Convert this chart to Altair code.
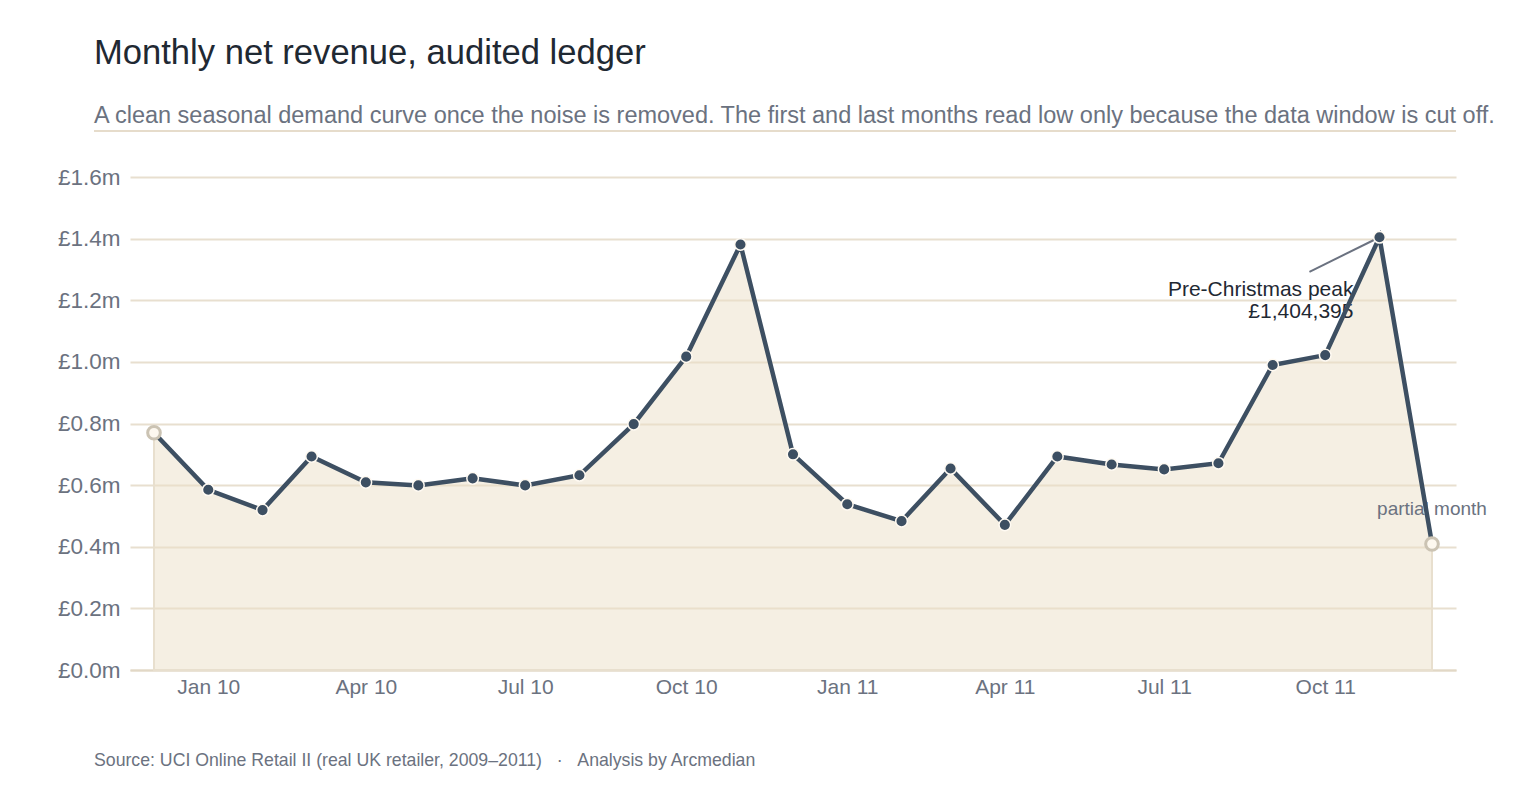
import altair as alt
import pandas as pd

# Monthly net revenue (GBP), Dec 2009 – Dec 2011
months = [
    "2009-12-01", "2010-01-01", "2010-02-01", "2010-03-01", "2010-04-01",
    "2010-05-01", "2010-06-01", "2010-07-01", "2010-08-01", "2010-09-01",
    "2010-10-01", "2010-11-01", "2010-12-01", "2011-01-01", "2011-02-01",
    "2011-03-01", "2011-04-01", "2011-05-01", "2011-06-01", "2011-07-01",
    "2011-08-01", "2011-09-01", "2011-10-01", "2011-11-01", "2011-12-01",
]
revenue = [
    770000, 585000, 519000, 693000, 609000,
    599000, 622000, 599000, 632000, 798000,
    1017000, 1381000, 700000, 538000, 483000,
    654000, 471000, 693000, 667000, 651000,
    671000, 990000, 1022000, 1404395, 409000,
]
# first and last months are cut off by the data window
partial = [True] + [False] * 23 + [True]
notes = [""] * 24 + ["partial month"]

y_ticks = [0, 200000, 400000, 600000, 800000, 1000000, 1200000, 1400000, 1600000]

df = pd.DataFrame({"month": months, "revenue": revenue, "partial": partial, "note": notes})

W, H = 1326, 493
FONT = "Liberation Sans"
INK = "#1f2933"
MUTED = "#6b7280"
LINE = "#3d4f62"
GRID = "#e8dfcf"

x_enc = alt.X(
    "month:T",
    scale=alt.Scale(type="utc", padding=24, nice=False),
    axis=alt.Axis(
        title=None,
        tickCount={"interval": "month", "step": 3},
        labelExpr="utcFormat(datum.value, '%b %y')",
        grid=False,
        ticks=False,
        domain=True,
        domainColor="#e2d8c6",
        domainWidth=2,
        labelPadding=6,
        labelFontSize=21,
        labelColor=MUTED,
        labelFont=FONT,
    ),
)
y_enc = alt.Y(
    "revenue:Q",
    scale=alt.Scale(domain=[0, 1600000], nice=False),
    axis=alt.Axis(
        title=None,
        values=y_ticks,
        labelExpr="'£' + format(datum.value / 1e6, '.1f') + 'm'",
        grid=True,
        gridColor=GRID,
        gridWidth=2,
        ticks=False,
        domain=False,
        labelPadding=10,
        labelFontSize=22.5,
        labelColor=MUTED,
        labelFont=FONT,
    ),
)

base = alt.Chart(df).encode(x=x_enc, y=y_enc)

area = base.mark_area(fill="#ecdfc8", fillOpacity=0.5, stroke="#e8dfce", strokeWidth=2)
line = base.mark_line(color=LINE, strokeWidth=4.5)
dots = base.transform_filter("!datum.partial").mark_circle(
    size=135, fill=LINE, opacity=1, stroke="#fffaf2", strokeWidth=1.5
)
edge_dots = base.transform_filter("datum.partial").mark_circle(
    size=160, fill="#fdf8ef", opacity=1, stroke="#cbc3b3", strokeWidth=3
)

peak = base.transform_joinaggregate(top="max(revenue)").transform_filter(
    "datum.revenue == datum.top"
)
peak_label = peak.transform_calculate(
    label="'Pre-Christmas peak\\n£' + format(datum.revenue, ',')"
).mark_text(
    align="right", baseline="top", dx=-26, dy=42, fontSize=21, lineHeight=22,
    color=INK, font=FONT, lineBreak="\n",
).encode(text="label:N")
leader = peak.transform_calculate(
    lx="toDate(datum.month) - 40 * 86400000",
    ly="datum.revenue - 112000",
).mark_rule(color=MUTED, strokeWidth=2).encode(x2="lx:T", y2="ly:Q")

note_label = base.transform_filter("datum.note != ''").mark_text(
    align="center", baseline="middle", dy=-35, fontSize=19, color=MUTED, font=FONT
).encode(text="note:N")

one = pd.DataFrame({"k": [0]})
underline = alt.Chart(one).mark_rule(color="#e6dccb", strokeWidth=2).encode(
    x=alt.value(-36), x2=alt.value(W), y=alt.value(-46)
)
footer = alt.Chart(one).mark_text(
    align="left", baseline="middle", fontSize=17.7, color=MUTED, font=FONT
).encode(
    x=alt.value(-36),
    y=alt.value(584),
    text=alt.value(
        "Source: UCI Online Retail II (real UK retailer, 2009\u20132011)"
        "\u00a0\u00a0\u00a0\u00b7\u00a0\u00a0\u00a0Analysis by Arcmedian"
    ),
)

chart = alt.layer(
    area, underline, peak_label, note_label, leader, line, dots, edge_dots, footer
).properties(
    width=W,
    height=H,
    autosize=alt.AutoSizeParams(type="none"),
    padding={"left": 130, "top": 177, "right": 57, "bottom": 127},
    background="white",
    title=alt.TitleParams(
        text="Monthly net revenue, audited ledger",
        subtitle="A clean seasonal demand curve once the noise is removed. The first and last months read low only because the data window is cut off.",
        anchor="start",
        frame="group",
        dx=-36,
        offset=1,
        font=FONT,
        fontSize=34.6,
        fontWeight="normal",
        color=INK,
        subtitleFont=FONT,
        subtitleFontSize=23.5,
        subtitleColor=MUTED,
        subtitlePadding=33,
    ),
).configure_view(stroke=None)

chart.save("out.html", embed_options={"renderer": "svg", "actions": False})
